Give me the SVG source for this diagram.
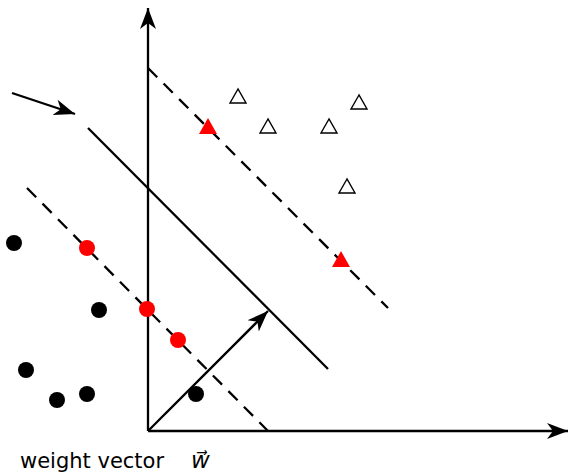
<svg xmlns="http://www.w3.org/2000/svg" width="570" height="475" viewBox="0 0 570 475">
<style>
.ln{stroke:#000;stroke-width:2.3;fill:none}
.dash{stroke-dasharray:13,9}
.blk{fill:#000}
.red{fill:#ff0000}
.tri{fill:#fff;stroke:#000;stroke-width:1.4}
.rtri{fill:#ff0000}
.lbl{font-family:"DejaVu Sans","Liberation Sans",sans-serif;font-size:21px;fill:#000}
</style>
<defs>
<marker id="ah" markerWidth="24" markerHeight="18" refX="21" refY="9" orient="auto" markerUnits="userSpaceOnUse">
<path d="M0,1 L21,9 L0,17 L6,9 Z" fill="#000"/>
</marker>
</defs>
<g id="connectors">
<line id="y-axis" class="ln" x1="148" y1="431" x2="148" y2="8" marker-end="url(#ah)"/>
<line id="x-axis" class="ln" x1="148" y1="431" x2="568" y2="431" marker-end="url(#ah)"/>
<line id="hyperplane" class="ln" x1="88" y1="128" x2="328" y2="369"/>
<line id="margin-upper" class="ln dash" x1="148" y1="68" x2="388" y2="308"/>
<line id="margin-lower" class="ln dash" x1="27" y1="188" x2="268" y2="431"/>
<line id="weight-vector" class="ln" x1="148" y1="431" x2="268" y2="311" marker-end="url(#ah)"/>
<line id="pointer" class="ln" x1="12" y1="93" x2="75" y2="114" marker-end="url(#ah)"/>
</g>
<g id="class-neg">
<circle class="blk" cx="14" cy="243" r="8"/>
<circle class="blk" cx="99" cy="310" r="8"/>
<circle class="blk" cx="26" cy="370" r="8"/>
<circle class="blk" cx="57" cy="400" r="8"/>
<circle class="blk" cx="87" cy="394" r="8"/>
<circle class="blk" cx="196" cy="394" r="8"/>
</g>
<g id="support-neg">
<circle class="red" cx="87" cy="248" r="8"/>
<circle class="red" cx="147" cy="309" r="8"/>
<circle class="red" cx="178" cy="340" r="8"/>
</g>
<g id="class-pos">
<polygon class="tri" points="238,89 230,103 246,103"/>
<polygon class="tri" points="268,119 260,133 276,133"/>
<polygon class="tri" points="329,119 321,133 337,133"/>
<polygon class="tri" points="359,95 351,109 367,109"/>
<polygon class="tri" points="347,179 339,193 355,193"/>
</g>
<g id="support-pos">
<polygon class="rtri" points="208,118 199,134 217,134"/>
<polygon class="rtri" points="341,251 332,267 350,267"/>
</g>
<g id="label">
<text class="lbl" x="20" y="468">weight vector<tspan dx="27" font-style="italic" font-size="23">w⃗</tspan></text>
</g>
</svg>
